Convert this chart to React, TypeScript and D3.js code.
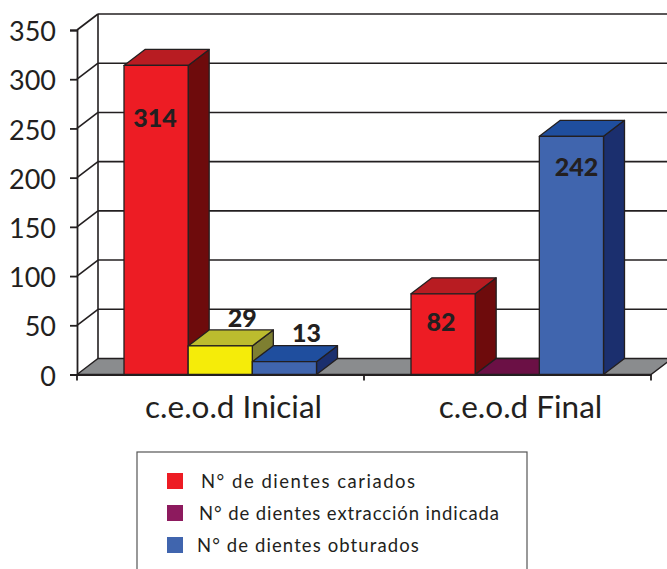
import React, { useEffect, useRef } from 'react';
import * as d3 from 'd3';

const categories = ['c.e.o.d Inicial', 'c.e.o.d Final'];
const seriesNames = ['N° de dientes cariados', 'N° de dientes extracción indicada', 'N° de dientes obturados'];
const cariados = [314, 82];
const extraccion = [29, 0];
const obturados = [13, 242];
const yTicks = [0, 50, 100, 150, 200, 250, 300, 350];

const FONT = 'Lato, "Open Sans", sans-serif';
const INK = '#231f20';

// front / top / side shades
const RED = ['#ed1c24', '#b81c22', '#6e0b0c'];
const YELLOW = ['#f5ec09', '#bcbc2e', '#7e7f31'];
const PURPLE = ['#8d1a5e', '#6b1045', '#6b1045'];
const BLUE = ['#4065ae', '#1f4e9e', '#1b2f6e'];
const legendColors = [RED[0], PURPLE[0], BLUE[0]];

const App: React.FC = () => {
    const svgRef = useRef<SVGSVGElement>(null);

    useEffect(() => {
        if (!svgRef.current) return;
        const svg = d3.select(svgRef.current);
        svg.selectAll('*').remove();

        const width = 667;
        const height = 569;
        const dx = 21;
        const dy = 16;
        const left = 77;
        const right = 651;

        const y = d3.scaleLinear().domain([0, 350]).range([374.5, 30]);
        const x0 = d3.scaleBand<string>().domain(categories).range([left, right]);
        const x1 = d3.scaleBand<number>().domain([0, 1, 2]).range([47, 47 + 192.5]);

        const poly = (pts: [number, number][]) => pts.map((p) => p.join(',')).join(' ');

        // Wall and gridlines
        const grid = svg.append('g').attr('stroke', INK).attr('stroke-width', 1.6).attr('fill', 'none');
        grid.selectAll('.back')
            .data(yTicks.slice(1))
            .join('line')
            .attr('x1', left + dx)
            .attr('x2', width + 10)
            .attr('y1', (d) => y(d) - dy)
            .attr('y2', (d) => y(d) - dy);
        grid.selectAll('.diag')
            .data(yTicks.slice(1))
            .join('line')
            .attr('x1', left)
            .attr('x2', left + dx)
            .attr('y1', (d) => y(d))
            .attr('y2', (d) => y(d) - dy);
        grid.append('line')
            .attr('x1', left + dx)
            .attr('x2', left + dx)
            .attr('y1', y(350) - dy)
            .attr('y2', y(0) - dy);

        // Floor
        svg.append('polygon')
            .attr('points', poly([[left, y(0)], [left + dx, y(0) - dy], [right + dx, y(0) - dy], [right, y(0)]]))
            .attr('fill', '#8a8c8e')
            .attr('stroke', INK)
            .attr('stroke-width', 1.4);

        // Bars
        const bars = categories.flatMap((cat, c) => {
            const values = [cariados[c], extraccion[c], obturados[c]];
            return values.map((value, s) => {
                let colors = s === 0 ? RED : s === 2 ? BLUE : c === 0 ? YELLOW : PURPLE;
                return { cat, s, c, value, colors };
            });
        });

        const barG = svg.selectAll('.bar').data(bars).join('g').attr('class', 'bar')
            .attr('stroke', INK).attr('stroke-width', 1.3).attr('stroke-linejoin', 'round');
        const xa = (d: any) => x0(d.cat)! + x1(d.s)!;
        const xb = (d: any) => xa(d) + x1.bandwidth();

        barG.append('polygon')
            .attr('fill', (d) => d.colors[2])
            .attr('points', (d) => poly([[xb(d), y(0)], [xb(d) + dx, y(0) - dy], [xb(d) + dx, y(d.value) - dy], [xb(d), y(d.value)]]));
        barG.append('polygon')
            .attr('fill', (d) => d.colors[1])
            .attr('points', (d) => poly([[xa(d), y(d.value)], [xa(d) + dx, y(d.value) - dy], [xb(d) + dx, y(d.value) - dy], [xb(d), y(d.value)]]));
        barG.filter((d) => d.value > 0).append('rect')
            .attr('fill', (d) => d.colors[0])
            .attr('x', (d) => xa(d))
            .attr('y', (d) => y(d.value))
            .attr('width', x1.bandwidth())
            .attr('height', (d) => y(0) - y(d.value));

        // Value labels sit by hand in the original
        const labelNudge: Record<string, [number, number]> = {
            '0-0': [-1, 53], '0-1': [22, -28], '0-2': [22, -29], '1-0': [-2, 28], '1-2': [5, 31],
        };
        svg.selectAll('.value')
            .data(bars.filter((d) => d.value > 0))
            .join('text')
            .attr('class', 'value')
            .attr('x', (d) => xa(d) + x1.bandwidth() / 2 + labelNudge[`${d.c}-${d.s}`][0])
            .attr('y', (d) => y(d.value) + labelNudge[`${d.c}-${d.s}`][1])
            .attr('dy', '0.36em')
            .attr('text-anchor', 'middle')
            .attr('font-family', FONT)
            .attr('font-weight', 900)
            .attr('font-size', 25)
            .attr('fill', INK)
            .text((d) => d.value);

        // Axes
        const yAxis = svg.append('g')
            .attr('transform', `translate(${left},0)`)
            .call(d3.axisLeft(y).tickValues(yTicks).tickSize(7).tickPadding(14) as any);
        yAxis.selectAll('path, line').attr('stroke', INK).attr('stroke-width', 1.8);
        yAxis.selectAll('text')
            .attr('font-family', FONT)
            .attr('font-size', 27)
            .attr('y', 2)
            .attr('fill', INK);

        const xAxis = svg.append('g')
            .attr('transform', `translate(0,${y(0)})`)
            .call(d3.axisBottom(x0).tickSize(0).tickPadding(21) as any);
        xAxis.select('.domain').attr('stroke', INK).attr('stroke-width', 1.8);
        xAxis.selectAll('text')
            .attr('font-family', FONT)
            .attr('font-size', 31.5)
            .attr('x', 13)
            .attr('fill', INK);
        xAxis.selectAll('.edge')
            .data([left, x0(categories[1])!, right])
            .join('line')
            .attr('x1', (d) => d)
            .attr('x2', (d) => d)
            .attr('y1', 0)
            .attr('y2', 6)
            .attr('stroke', INK)
            .attr('stroke-width', 1.8);

        // Legend, its bottom edge is cut off by the picture
        const legend = svg.append('g');
        legend.append('rect')
            .attr('x', 137)
            .attr('y', 452)
            .attr('width', 390)
            .attr('height', 140)
            .attr('fill', 'white')
            .attr('stroke', '#555')
            .attr('stroke-width', 1.2);
        const ly = d3.scalePoint<string>().domain(seriesNames).range([481, 545]);
        const lx = [201, 199, 197];
        const spacing = [1.5, 0.9, 1.1];
        legend.selectAll('.swatch')
            .data(seriesNames)
            .join('rect')
            .attr('x', 167)
            .attr('y', (d) => ly(d)! - 8)
            .attr('width', 16)
            .attr('height', 16)
            .attr('fill', (_, i) => legendColors[i]);
        legend.selectAll('.entry')
            .data(seriesNames)
            .join('text')
            .attr('x', (_, i) => lx[i])
            .attr('y', (d) => ly(d)!)
            .attr('dy', '0.36em')
            .attr('font-family', FONT)
            .attr('font-size', 18.5)
            .attr('letter-spacing', (_, i) => spacing[i])
            .attr('fill', INK)
            .text((d) => d);
    }, []);

    return (
        <svg
            ref={svgRef}
            width={667}
            height={569}
            style={{ position: 'absolute', left: 0, top: 0, background: 'white' }}
        />
    );
};

export default App;
